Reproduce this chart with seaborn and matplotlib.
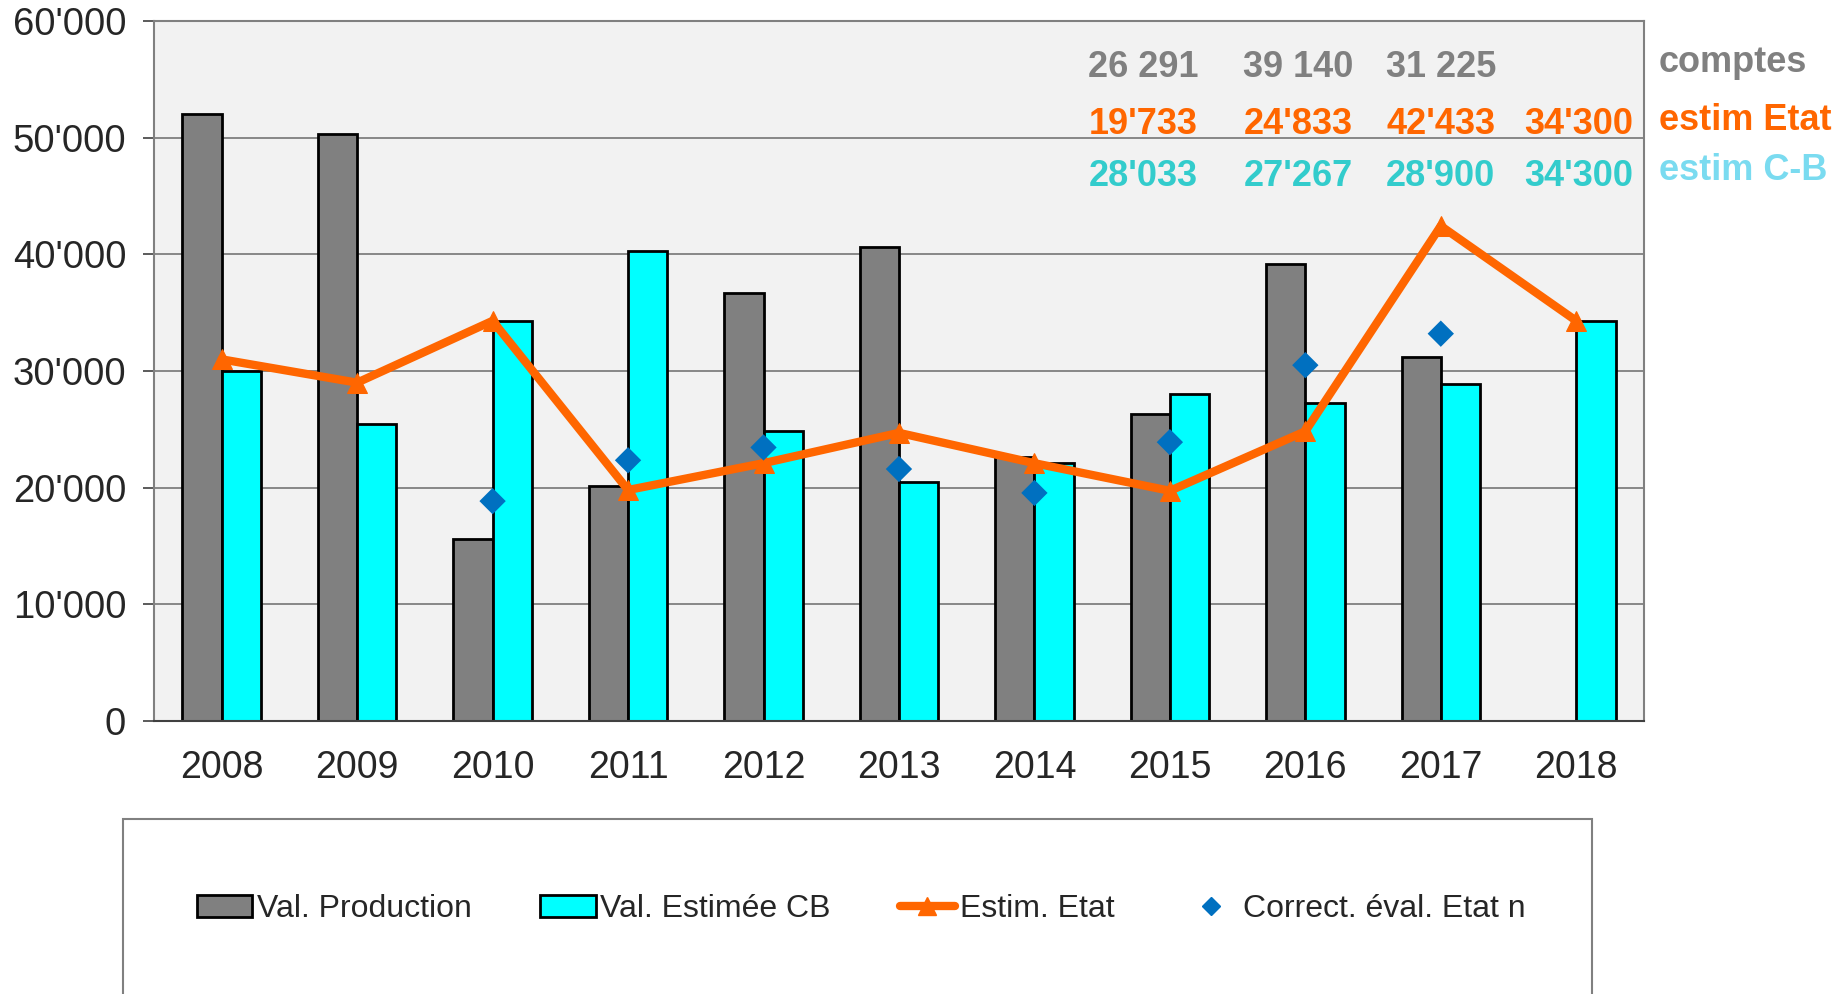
import numpy as np
import pandas as pd
import seaborn as sns
import matplotlib.pyplot as plt
from matplotlib.patches import Patch, Rectangle
from matplotlib.lines import Line2D

# données
years = ['2008', '2009', '2010', '2011', '2012', '2013', '2014', '2015', '2016', '2017', '2018']
val_production = [52000, 50300, 15600, 20150, 36650, 40650, 22600, 26291, 39140, 31225, np.nan]
val_estimee_cb = [30000, 25500, 34300, 40300, 24833, 20500, 22150, 28033, 27267, 28900, 34300]
estim_etat = [31000, 29000, 34300, 19800, 22100, 24700, 22100, 19733, 24833, 42433, 34300]
correct_eval = [np.nan, np.nan, 18850, 22350, 23450, 21600, 19550, 23900, 30500, 33200, np.nan]

# tableau des valeurs en haut à droite
comptes_txt = ['26 291', '39 140', '31 225']
etat_txt = ["19'733", "24'833", "42'433", "34'300"]
cb_txt = ["28'033", "27'267", "28'900", "34'300"]
row_labels = ['comptes', 'estim Etat', 'estim C-B']

GREY = '#808080'
CYAN = '#00FFFF'
ORANGE = '#FF6600'
BLUE = '#0070C0'

sns.set_style('white')
plt.rcParams['font.family'] = ['Liberation Sans', 'DejaVu Sans']

df = pd.DataFrame({
    'year': years * 2,
    'value': val_production + val_estimee_cb,
    'serie': ['Val. Production'] * len(years) + ['Val. Estimée CB'] * len(years),
})

fig = plt.figure(figsize=(18.48, 9.94), dpi=100)
ax = fig.add_axes([0.0833, 0.2746, 0.8063, 0.7043])
ax.set_facecolor('#F2F2F2')

# grille horizontale derrière les barres
ax.set_axisbelow(True)
ax.yaxis.grid(True, color='#7F7F7F', lw=1.3)

sns.barplot(data=df, x='year', y='value', hue='serie', order=years,
            palette=[GREY, CYAN], width=0.58, gap=0, saturation=1,
            edgecolor='black', linewidth=2.0, legend=False, ax=ax)

x = np.arange(len(years))
sns.lineplot(x=x, y=estim_etat, color=ORANGE, lw=6, marker='^', markersize=15,
             markeredgecolor=ORANGE, ax=ax, zorder=4)
sns.scatterplot(x=x, y=correct_eval, color=BLUE, marker='D', s=180,
                edgecolor='none', ax=ax, zorder=5)

ax.set_xlim(-0.5, len(years) - 0.5)
ax.set_ylim(0, 60000)
ax.set_yticks(np.arange(0, 60001, 10000))
ax.set_yticklabels([f"{v:,}".replace(',', "'") for v in range(0, 60001, 10000)])
ax.set_xlabel('')
ax.set_ylabel('')

ax.set_xticks(x)
ax.set_xticklabels(years)
ax.set_xticks(np.arange(-0.5, len(years)), minor=True)
ax.tick_params(axis='x', which='major', length=0, pad=21, labelsize=27)
ax.tick_params(axis='x', which='minor', direction='inout', length=15, width=1.2, color='#404040')
ax.tick_params(axis='y', which='major', direction='out', length=8, width=1.2,
               color='#404040', pad=12, labelsize=27.5, left=True)

for side in ['top', 'right', 'left']:
    ax.spines[side].set_color('#808080')
    ax.spines[side].set_linewidth(1.5)
ax.spines['bottom'].set_color('#404040')
ax.spines['bottom'].set_linewidth(1.5)

# valeurs affichées en haut (comptes / estimations)
label_x = [6.8, 7.95, 9.0, 10.02]
row_y = [56000, 51100, 46700]
for i, t in enumerate(comptes_txt):
    ax.text(label_x[i], row_y[0], t, color=GREY, fontsize=26, fontweight='bold',
            ha='center', va='center')
for i, t in enumerate(etat_txt):
    ax.text(label_x[i], row_y[1], t, color=ORANGE, fontsize=26, fontweight='bold',
            ha='center', va='center')
for i, t in enumerate(cb_txt):
    ax.text(label_x[i], row_y[2], t, color='#33CCCC', fontsize=26, fontweight='bold',
            ha='center', va='center')
for lab, col, y in zip(row_labels, [GREY, ORANGE, '#7ADBF0'], [56400, 51500, 47200]):
    ax.text(10.61, y, lab, color=col, fontsize=26, fontweight='bold',
            ha='left', va='center', clip_on=False)

# légende dans un cadre qui dépasse le bas de la figure
fig.patches.append(Rectangle((123 / 1848, -0.2), (1592 - 123) / 1848, 0.2 + (994 - 819) / 994,
                             transform=fig.transFigure, fill=False,
                             edgecolor='#808080', lw=1.5))
handles = [
    Patch(facecolor=GREY, edgecolor='black', lw=2),
    Patch(facecolor=CYAN, edgecolor='black', lw=2),
    Line2D([], [], color=ORANGE, lw=6, marker='^', markersize=13),
    Line2D([], [], color=BLUE, lw=0, marker='D', markersize=9),
]
labels = ['Val. Production', 'Val. Estimée CB', 'Estim. Etat', 'Correct. éval. Etat n']
fig.legend(handles, labels, loc='center', bbox_to_anchor=(0.466, 0.0855), ncol=4,
           frameon=False, fontsize=23, handlelength=1.73, handletextpad=0.15,
           columnspacing=2.15)

fig.savefig('out.png', dpi=100)
